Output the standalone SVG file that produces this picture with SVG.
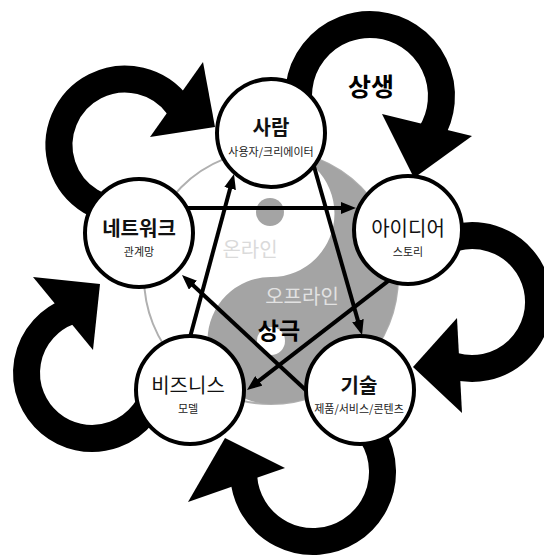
<svg xmlns="http://www.w3.org/2000/svg" width="544" height="556" viewBox="0 0 544 556">
<style>
.node{fill:#fff;stroke:#000;stroke-width:4}
.title{font-family:"Noto Sans CJK KR","Noto Sans",sans-serif;font-size:20px;text-anchor:middle;fill:#111}
.sub{font-family:"Noto Sans CJK KR","Noto Sans",sans-serif;font-size:11px;text-anchor:middle;fill:#222}
.ring{fill:none;stroke:#000;stroke-width:27}
.head{fill:#000}
.edge{fill:none;stroke:#000;stroke-width:4}
.big{font-family:"Noto Sans CJK KR","Noto Sans",sans-serif;font-weight:bold;text-anchor:middle;fill:#000}
.yy{font-family:"Noto Sans CJK KR","Noto Sans",sans-serif;font-size:20px;text-anchor:middle}
</style>
<defs>
<marker id="ah" markerUnits="userSpaceOnUse" markerWidth="15" markerHeight="12" refX="5" refY="6" orient="auto">
<path d="M0,0 L15,6 L0,12 Z" fill="#000"/>
</marker>
</defs>
<rect width="544" height="556" fill="#fff"/>
<g id="yinyang">
<circle cx="271" cy="277" r="127" fill="#fff" stroke="#b0b0b0" stroke-width="2"/>
<path d="M271,150 A127,127 0 0 1 271,404 A63.5,63.5 0 0 1 271,277 A63.5,63.5 0 0 0 271,150 Z" fill="#a4a4a4"/>
<circle cx="270" cy="212" r="14" fill="#a4a4a4"/>
<circle cx="271" cy="341" r="14" fill="#fff"/>
<text class="yy" x="250" y="257" fill="#dadada">온라인</text>
<text class="yy" x="302" y="304" fill="#e2e2e2">오프라인</text>
</g>
<g id="connectors">
<path class="ring" d="M302.8,120.5 A71.5,71.5 0 1 1 430.6,133.9"/>
<polygon class="head" points="382,114 472,136 414,178"/>
<path class="ring" d="M427.5,252.6 A66.5,66.5 0 1 1 453.7,365.9"/>
<polygon class="head" points="457,318 462,413 413,367"/>
<path class="ring" d="M347.8,411.8 A69.5,69.5 0 1 1 243.7,476.9"/>
<polygon class="head" points="285,468 188,502 225,438"/>
<path class="ring" d="M156.5,384.4 A65.5,65.5 0 1 1 69.6,311.4"/>
<polygon class="head" points="93,350 33,277 100,284"/>
<path class="ring" d="M135.3,210.2 A66,66 0 1 1 178.4,106.2"/>
<polygon class="head" points="150,137 203,62 215,127"/>
<line class="edge" x1="186" y1="208" x2="346" y2="208" marker-end="url(#ah)"/>
<line class="edge" x1="189" y1="341" x2="231.4" y2="183.7" marker-end="url(#ah)"/>
<line class="edge" x1="312.8" y1="162.3" x2="359.3" y2="325.4" marker-end="url(#ah)"/>
<line class="edge" x1="389.3" y1="280.1" x2="254.9" y2="383.9" marker-end="url(#ah)"/>
<line class="edge" x1="310" y1="394" x2="189.3" y2="281.8" marker-end="url(#ah)"/>
</g>
<g id="node-saram">
<circle class="node" cx="271" cy="133" r="54"/>
<text class="title" x="271" y="135" font-weight="bold">사람</text>
<text class="sub" x="271" y="156" font-size="11.5">사용자/크리에이터</text>
</g>
<g id="node-network">
<circle class="node" cx="139" cy="233" r="54"/>
<text class="title" x="139" y="236" font-weight="bold">네트워크</text>
<text class="sub" x="139" y="256">관계망</text>
</g>
<g id="node-idea">
<circle class="node" cx="408" cy="230" r="54"/>
<text class="title" x="408" y="236">아이디어</text>
<text class="sub" x="408" y="256">스토리</text>
</g>
<g id="node-business">
<circle class="node" cx="190" cy="390" r="54"/>
<text class="title" x="188" y="393">비즈니스</text>
<text class="sub" x="188" y="413">모델</text>
</g>
<g id="node-tech">
<circle class="node" cx="360" cy="390" r="54"/>
<text class="title" x="359" y="393" font-weight="bold">기술</text>
<text class="sub" x="359" y="413">제품/서비스/콘텐츠</text>
</g>
<g id="labels">
<text class="big" x="371" y="96" font-size="25">상생</text>
<text class="big" x="279" y="339" font-size="23">상극</text>
</g>
</svg>
